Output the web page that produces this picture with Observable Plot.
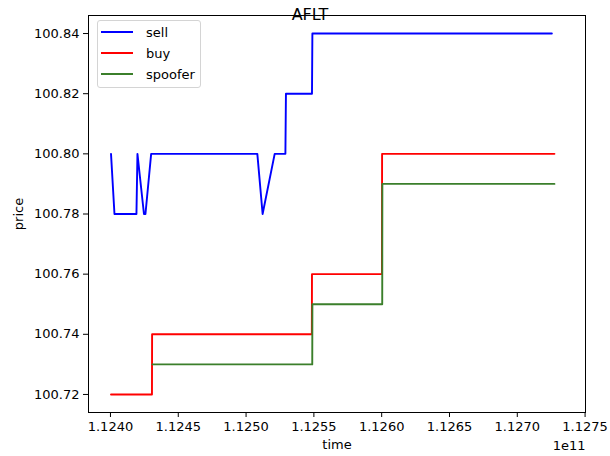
<!DOCTYPE html>
<html>
<head>
<meta charset="utf-8">
<script src="https://cdn.jsdelivr.net/npm/d3@7"></script>
<script src="https://cdn.jsdelivr.net/npm/@observablehq/plot@0.6"></script>
<style>
  html, body { margin: 0; padding: 0; background: #fff; }
  #wrap { position: relative; width: 610px; height: 456px; font-family: "DejaVu Sans", sans-serif; }
  #title { position: absolute; left: 0; top: 5px; width: 620px; text-align: center; font-size: 16px; color: #000; pointer-events: none; }
  #legend { position: absolute; left: 97px; top: 20px; width: 104px; height: 68px; box-sizing: border-box;
            border: 1px solid #d4d4d4; border-radius: 3px; background: rgba(255,255,255,0.8); font-size: 13px; color: #000; }
  .item { position: absolute; left: 3px; height: 16px; display: flex; align-items: center; }
  .item svg { width: 32px; height: 4px; margin-right: 13px; }
</style>
</head>
<body>
<div id="wrap">
  <div id="chart"></div>
  <div id="title"></div>
  <div id="legend"></div>
</div>
<script>
// ---- data ----
const seriesNames = ["sell", "buy", "spoofer"];
const seriesColors = ["#0000ff", "#ff0000", "#3b7f2b"];

const sellTime  = [112400400000, 112402950000, 112419160000, 112419900000, 112424700000, 112425800000, 112430000000, 112508300000, 112512200000, 112521100000, 112529000000, 112529400000, 112548600000, 112548900000, 112725500000];
const sellPrice = [100.80, 100.78, 100.78, 100.80, 100.78, 100.78, 100.80, 100.80, 100.78, 100.80, 100.80, 100.82, 100.82, 100.84, 100.84];

const buyTime  = [112400400000, 112430600000, 112430700000, 112548500000, 112548600000, 112600200000, 112600300000, 112727400000];
const buyPrice = [100.72, 100.72, 100.74, 100.74, 100.76, 100.76, 100.80, 100.80];

const spoofTime  = [112431000000, 112548800000, 112548900000, 112600400000, 112600500000, 112727400000];
const spoofPrice = [100.73, 100.73, 100.75, 100.75, 100.79, 100.79];

const xTicks = [112400000000, 112450000000, 112500000000, 112550000000, 112600000000, 112650000000, 112700000000, 112750000000];
const yTicks = [100.72, 100.74, 100.76, 100.78, 100.80, 100.82, 100.84];
const titleText = "AFLT";
const xLabel = "time";
const yLabel = "price";
const xOffsetText = "1e11";

// ---- build table ----
const rows = [];
[[sellTime, sellPrice], [buyTime, buyPrice], [spoofTime, spoofPrice]].forEach(([t, p], i) => {
  t.forEach((v, j) => rows.push({series: seriesNames[i], time: v, price: p[j]}));
});

const chart = Plot.plot({
  width: 610,
  height: 456,
  marginLeft: 88,
  marginRight: 25,
  marginTop: 15,
  marginBottom: 44,
  style: { fontFamily: "DejaVu Sans, sans-serif", fontSize: "13px", color: "#000", background: "#fff" },
  x: { domain: [112383800000, 112750300000] },
  y: { domain: [100.714, 100.846] },
  color: { domain: seriesNames, range: seriesColors },
  marks: [
    Plot.frame({ stroke: "#000", strokeWidth: 1 }),
    Plot.axisX({ ticks: xTicks, tickFormat: d => (d / 1e11).toFixed(4), tickSize: 5, tickPadding: 4,
                 label: xLabel, labelAnchor: "center", labelArrow: "none", labelOffset: 36 }),
    Plot.axisY({ ticks: yTicks, tickFormat: d => d.toFixed(2), tickSize: 5, tickPadding: 4,
                 label: yLabel, labelAnchor: "center", labelArrow: "none", labelOffset: 75 }),
    Plot.text([xOffsetText], { frameAnchor: "bottom-right", dy: 37, textAnchor: "end", fontSize: 13 }),
    Plot.line(rows, { x: "time", y: "price", z: "series", stroke: "series", strokeWidth: 1.9, curve: "linear" })
  ]
});
document.getElementById("chart").appendChild(chart);
document.getElementById("title").textContent = titleText;

const legend = document.getElementById("legend");
seriesNames.forEach((name, i) => {
  const it = document.createElement("div");
  it.className = "item";
  it.style.top = (3 + i * 21) + "px";
  it.innerHTML = `<svg viewBox="0 0 32 4"><line x1="0" y1="2" x2="32" y2="2" stroke="${seriesColors[i]}" stroke-width="2"/></svg><span>${name}</span>`;
  legend.appendChild(it);
});
</script>
</body>
</html>
